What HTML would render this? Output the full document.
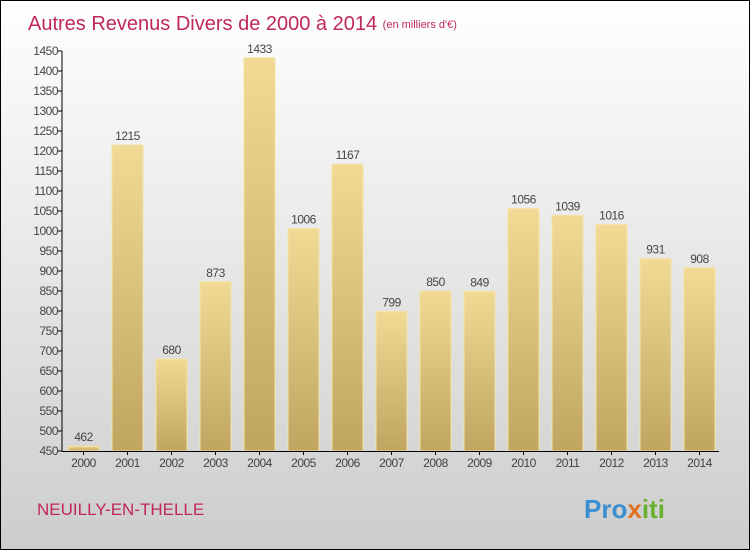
<!DOCTYPE html>
<html><head><meta charset="utf-8"><style>
body{margin:0;}
#c{width:750px;height:550px;position:relative;box-sizing:border-box;border:1px solid #000;background:linear-gradient(#ffffff,#cdcdcd);font-family:"Liberation Sans",sans-serif;overflow:hidden;}
svg{position:absolute;left:0;top:0;}
</style></head><body>
<div id="c">
<svg id="s" width="750" height="550">
<defs><linearGradient id="g" x1="0" y1="0" x2="0" y2="1"><stop offset="0" stop-color="#f1da94"/><stop offset="1" stop-color="#bea660"/></linearGradient></defs>
<text x="27" y="29" font-size="20" fill="#c0285a">Autres Revenus Divers de 2000 à 2014 <tspan font-size="11" dy="-2">(en milliers d'€)</tspan></text>
<text x="36" y="514" font-size="17" fill="#c0285a">NEUILLY-EN-THELLE</text>
<text x="583" y="517" font-size="26" font-weight="bold" fill="#3a8fd0">Pro<tspan fill="#e07020">x</tspan><tspan fill="#6ab030">iti</tspan></text>
</svg>
</div>
<script>
const years=["2000","2001","2002","2003","2004","2005","2006","2007","2008","2009","2010","2011","2012","2013","2014"];
const values=[462,1215,680,873,1433,1006,1167,799,850,849,1056,1039,1016,931,908];
const yTicks=[450,500,550,600,650,700,750,800,850,900,950,1000,1050,1100,1150,1200,1250,1300,1350,1400,1450];
const s=document.getElementById('s');
const NS='http://www.w3.org/2000/svg';
const y0=450,y1=50,vmin=450,vmax=1450;
const yS=v=>y0-(v-vmin)/(vmax-vmin)*(y0-y1);
const xS=i=>82.5+i*44.0;
function mk(t,a){const e=document.createElementNS(NS,t);for(const k in a)e.setAttribute(k,a[k]);s.appendChild(e);return e;}
yTicks.forEach(v=>{
 const l=mk('line',{x1:57,x2:61,y1:yS(v),y2:yS(v),stroke:'#000'});
 
 
 const t=mk('text',{x:57,y:yS(v)+4,'font-size':12,'text-anchor':'end',fill:'#444','letter-spacing':'-0.5'});
 t.textContent=v;
 
 
});
values.forEach((v,i)=>{
 const r=mk('rect',{x:xS(i)-15.5,y:yS(v),width:31,height:y0-yS(v),fill:'url(#g)',stroke:'#f5e3a6','stroke-width':1});
 
 
 const t=mk('text',{x:xS(i),y:yS(v)-5,'font-size':12,'text-anchor':'middle',fill:'#444','letter-spacing':'-0.5'});
 t.textContent=v;
 
 
 const k=mk('line',{x1:xS(i),x2:xS(i),y1:450,y2:454,stroke:'#000'});
 
 
 const x=mk('text',{x:xS(i),y:466,'font-size':12,'text-anchor':'middle',fill:'#444','letter-spacing':'-0.5'});
 x.textContent=years[i];
 
 
});
const ya=mk('line',{x1:61,x2:61,y1:50,y2:450.5,stroke:'#000'});


const xa=mk('line',{x1:61,x2:718,y1:450.5,y2:450.5,stroke:'#000'});


</script>
</body></html>
